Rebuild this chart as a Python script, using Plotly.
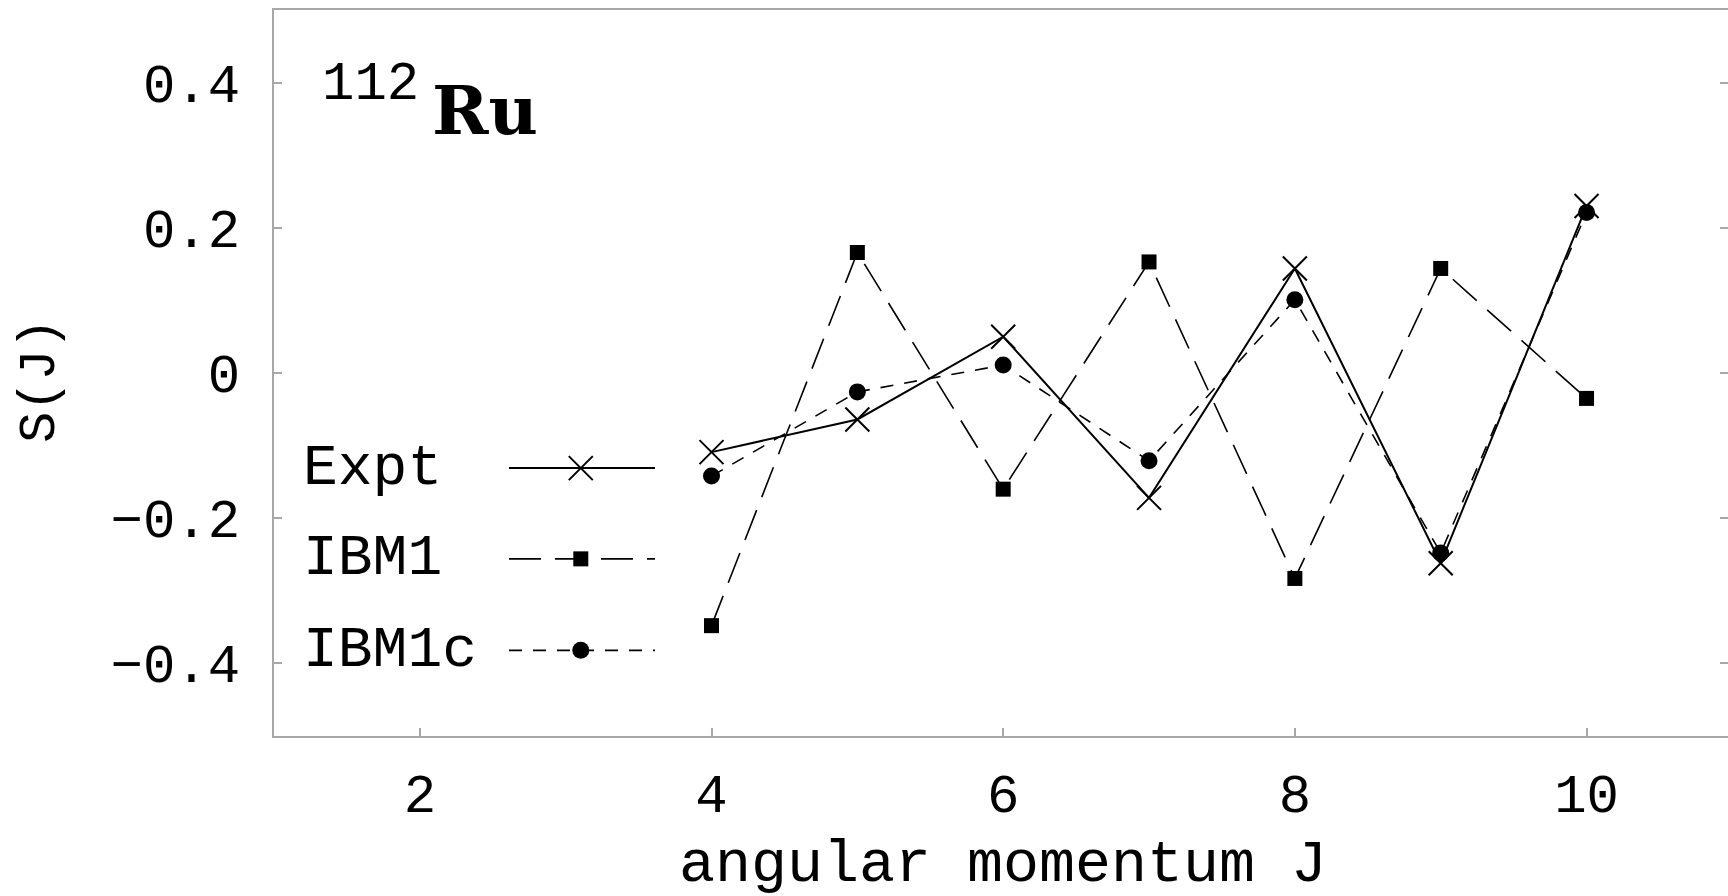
import plotly.graph_objects as go

# ---- data ----
J = [4, 5, 6, 7, 8, 9, 10]
expt = [-0.109, -0.064, 0.050, -0.172, 0.144, -0.262, 0.230]
ibm1 = [-0.348, 0.166, -0.160, 0.153, -0.283, 0.144, -0.035]
ibm1c = [-0.142, -0.026, 0.011, -0.121, 0.101, -0.248, 0.221]

series_names = ["Expt", "IBM1", "IBM1c"]
x_tickvals = [2, 4, 6, 8, 10]
x_ticktext = ["2", "4", "6", "8", "10"]
y_tickvals = [-0.4, -0.2, 0, 0.2, 0.4]
y_ticktext = ["\u22120.4", "\u22120.2", "0", "0.2", "0.4"]

MONO = "Liberation Mono, Courier New, monospace"
AX = "#a8a8a8"

styles = {
    "Expt": dict(line=dict(color="black", width=2, dash="solid"),
                 marker=dict(symbol="x-thin", size=24, color="black",
                             line=dict(color="black", width=2))),
    "IBM1": dict(line=dict(color="black", width=1.6, dash="32px,14px"),
                 marker=dict(symbol="square", size=15, color="black")),
    "IBM1c": dict(line=dict(color="black", width=1.6, dash="13px,11px"),
                  marker=dict(symbol="circle", size=17, color="black")),
}

fig = go.Figure()
for name, ys in zip(series_names, [expt, ibm1, ibm1c]):
    st = styles[name]
    fig.add_trace(go.Scatter(x=J, y=ys, mode="lines+markers", name=name,
                             line=st["line"], marker=st["marker"], showlegend=False))

# ---- hand-drawn legend (text left, sample right) on an overlay paper-like axis ----
leg_y = {"Expt": 0.369, "IBM1": 0.244, "IBM1c": 0.118}
leg_x0, leg_xm, leg_x1 = 0.1616, 0.211, 0.262
for name in series_names:
    st = styles[name]
    fig.add_trace(go.Scatter(x=[leg_x0, leg_x1], y=[leg_y[name]] * 2,
                             xaxis="x2", yaxis="y2", mode="lines",
                             line=st["line"], showlegend=False, hoverinfo="skip"))
    fig.add_trace(go.Scatter(x=[leg_xm], y=[leg_y[name]],
                             xaxis="x2", yaxis="y2", mode="markers",
                             marker=st["marker"], showlegend=False, hoverinfo="skip"))
    fig.add_annotation(text=name, xref="paper", yref="paper", x=0.0186, y=leg_y[name],
                       xanchor="left", yanchor="middle", showarrow=False,
                       font=dict(family=MONO, size=58, color="black"))

# ---- nucleus label ----
fig.add_annotation(text="112", xref="paper", yref="paper", x=(320 - 274) / 1454,
                   y=(736 - 85) / 726, xanchor="left", yanchor="middle", showarrow=False,
                   font=dict(family=MONO, size=54, color="black"))
fig.add_annotation(text="<b>Ru</b>", xref="paper", yref="paper", x=(485 - 274) / 1454,
                   y=(736 - 110) / 726, xanchor="center", yanchor="middle", showarrow=False,
                   font=dict(family="DejaVu Serif", size=68, color="black"))

# ---- axis titles ----
fig.add_annotation(text="angular momentum J", xref="x", yref="paper", x=6, y=0,
                   yanchor="middle", yshift=-129, showarrow=False,
                   font=dict(family=MONO, size=60, color="black"))
fig.add_annotation(text="S(J)", xref="paper", yref="paper", x=0, y=0.5,
                   xanchor="center", yanchor="middle", xshift=-234, yshift=-8,
                   textangle=-90, showarrow=False,
                   font=dict(family=MONO, size=52, color="black"))

fig.update_layout(
    width=1728, height=896,
    margin=dict(l=274, r=0, t=10, b=160),
    paper_bgcolor="white", plot_bgcolor="white",
    font=dict(family=MONO, color="black"),
    xaxis=dict(range=[1, 10.97], tickvals=x_tickvals, ticktext=x_ticktext,
               ticks="inside", ticklen=8, tickwidth=1.5, tickcolor=AX,
               showline=True, linecolor=AX, linewidth=2, mirror=True,
               showgrid=False, zeroline=False, ticklabelstandoff=9,
               tickfont=dict(family=MONO, size=54, color="black")),
    yaxis=dict(range=[-0.5, 0.5], tickvals=y_tickvals, ticktext=y_ticktext,
               ticks="inside", ticklen=8, tickwidth=1.5, tickcolor=AX,
               showline=True, linecolor=AX, linewidth=2, mirror=False,
               showgrid=False, zeroline=False, ticklabelstandoff=21,
               tickfont=dict(family=MONO, size=54, color="black")),
    yaxis3=dict(range=[-0.5, 0.5], tickvals=y_tickvals, overlaying="y", side="right",
                ticks="inside", ticklen=8, tickwidth=1.5, tickcolor=AX,
                showticklabels=False, showline=False, showgrid=False, zeroline=False,
                fixedrange=True),
    xaxis2=dict(range=[0, 1], overlaying="x", visible=False, fixedrange=True),
    yaxis2=dict(range=[0, 1], overlaying="y", visible=False, fixedrange=True),
)
# dummy invisible trace to activate the right-side tick axis
fig.add_trace(go.Scatter(x=[None], y=[None], yaxis="y3", showlegend=False, hoverinfo="skip"))

fig.write_html("out.html")
